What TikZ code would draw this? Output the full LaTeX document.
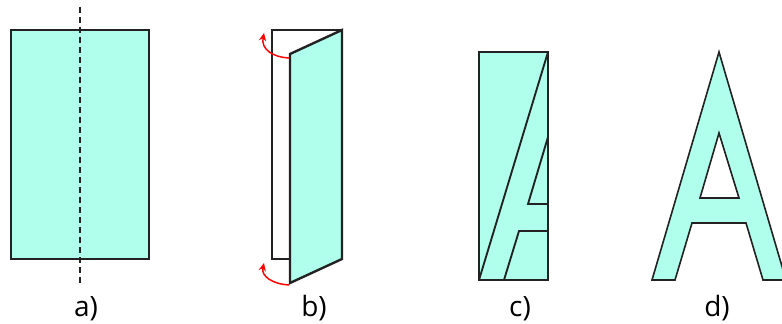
\documentclass[tikz,border=0pt]{standalone}
\usepackage{fontspec}
\setmainfont{Open Sans}
\usetikzlibrary{arrows.meta}
\definecolor{sheet}{RGB}{175,255,236}
\definecolor{edge}{RGB}{34,34,34}
\tikzset{
  paper/.style={draw=edge, line width=1.8pt, fill=sheet, line join=miter},
  fold/.style={red, line width=1.1pt, -{Stealth[length=6pt,width=5.5pt]}},
  caption/.style={anchor=base, font=\fontsize{21}{25}\selectfont}
}

\begin{document}
\begin{tikzpicture}[x=0.75pt,y=-0.75pt]
  \useasboundingbox (0,0) rectangle (782,324);
  \clip (0,0) rectangle (782,324);

  % a) flat sheet with fold line
  \draw[paper] (11,30) rectangle (149,259);
  \draw[edge, line width=1.3pt, dash pattern=on 4.5pt off 3pt] (80,7) -- (80,283);
  \node[caption] (capa) at (86,316) {a)};

  % b) sheet folded in half
  \draw[edge, line width=1.8pt] (290,259) -- (272,259) -- (272,30) -- (342,30);
  \draw[paper] (290,54) -- (342,30) -- (342,259) -- (290,283) -- cycle;
  \coordinate (topstart) at (289,58);
  \coordinate (topend) at (264,33);
  \coordinate (botstart) at (289,285);
  \coordinate (botend) at (264,263);
  \draw[fold] (topstart) .. controls (272,57) and (261,49) .. (topend);
  \draw[fold] (botstart) .. controls (272,284) and (261,276) .. (botend);
  \node[caption] (capb) at (314,316) {b)};

  % c) half letter cut on the folded sheet
  \draw[paper, line width=1.4pt] (479,52) rectangle (548,280);
  \draw[edge, line width=1.4pt] (479,280) -- (548,52);
  \draw[edge, line width=1.4pt] (548,137) -- (528,204) -- (548,204);
  \draw[edge, line width=1.4pt] (548,231) -- (519,231) -- (504,280);
  \node[caption] (capc) at (520,316) {c)};

  % d) unfolded letter
  \draw[paper, line width=1.2pt] (719,52) -- (786,280) -- (763,280) -- (746,223)
    -- (692,223) -- (675,280) -- (652,280) -- cycle;
  \draw[edge, line width=1.2pt, fill=white] (719,133) -- (739,198) -- (700,198) -- cycle;
  \node[caption] (capd) at (717,316) {d)};
\end{tikzpicture}
\end{document}
